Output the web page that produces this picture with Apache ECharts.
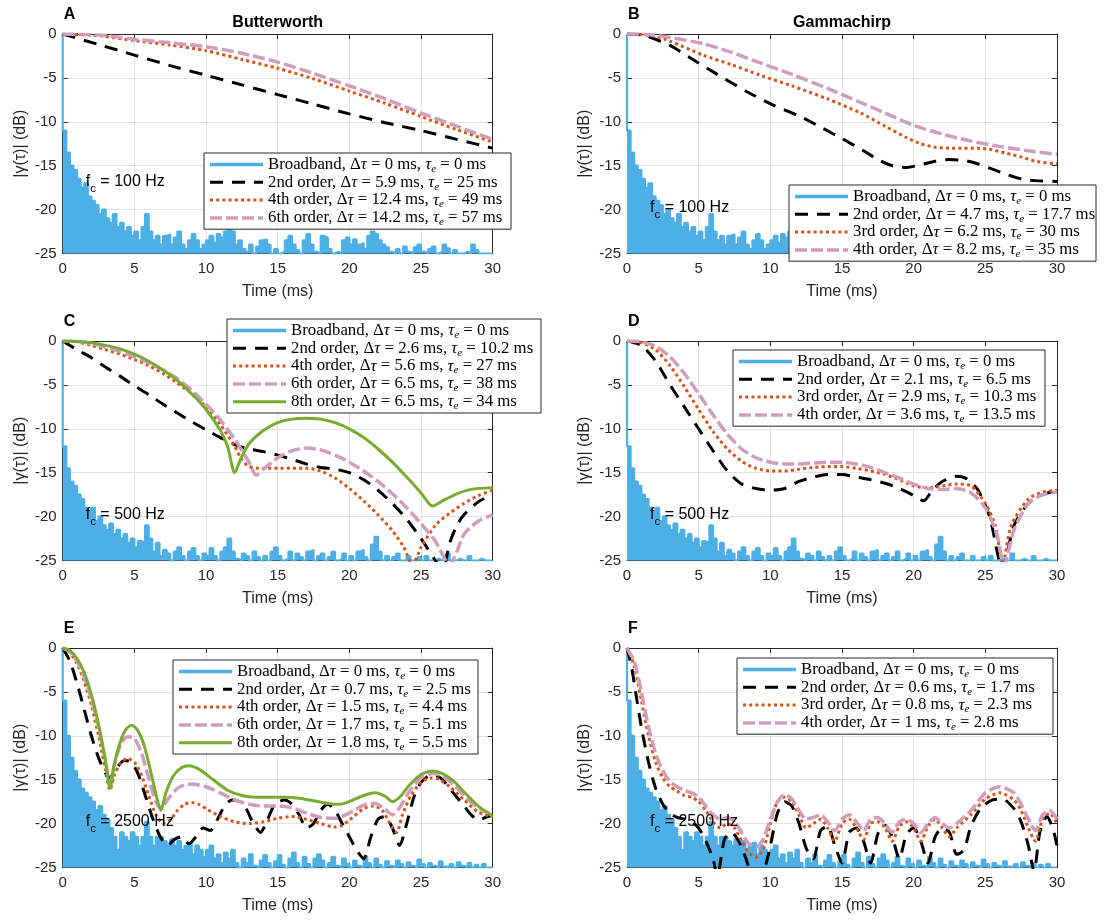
<!DOCTYPE html>
<html>
<head>
<meta charset="utf-8">
<script src="https://cdn.jsdelivr.net/npm/echarts@6/dist/echarts.min.js"></script>
<style>
  html, body { margin: 0; padding: 0; background: #ffffff; }
  #chart { width: 1104px; height: 920px; }
</style>
</head>
<body>
<div id="chart"></div>
<script>
// Broadband envelope |γ(τ)| in dB, sampled every BB_STEP ms from 0 to 30 ms
const BB_STEP = 0.25;
const bb100 = [
  0, -11, -13.5, -15, -15.5, -16.5, -17.5, -17, -18.5, -19, -19.5, -20.5, -20, -21, -21.5, -20.5, -22, -21.5, -22.5, -22,
  -23, -22.5, -23.5, -22, -20.5, -22.5, -23.5, -23, -24, -23, -22.8, -24, -23.2, -22.5, -24, -24.5, -23.5, -22.8, -23.5, -24.5,
  -24, -23.5, -23, -23.8, -22.8, -23.2, -22.5, -21.8, -22.5, -24, -23.5, -24.5, -24.8, -24, -25, -24.2, -23.5, -23.4, -24, -25,
  -24.5, -25, -24.8, -23.5, -23, -24, -24.6, -25, -23.5, -22.8, -24, -24.8, -25, -23, -23.2, -24.5, -25, -24.8, -25, -23.5,
  -23.2, -24, -23.4, -24, -23.8, -24.5, -23, -22.5, -22.8, -23.5, -24, -24.3, -24.8, -25, -24.5, -25, -24.2, -24.8, -25, -24.3,
  -24, -24.8, -25, -24.5, -24.2, -25, -24.8, -24, -24.4, -25, -24.6, -25, -25, -24.8, -25, -24, -24.6, -25, -25, -25,
  -25
];
const bb500 = [
  0, -12, -14.5, -16, -16.5, -17.5, -18, -19, -19.5, -19, -20.5, -20, -21, -21.5, -20.8, -22, -21.5, -22.5, -22, -23,
  -22.5, -23.5, -22.8, -23, -21, -22.5, -24, -23, -24.5, -23.8, -24.2, -25, -24, -23.5, -24.5, -25, -24, -23.6, -24.5, -25,
  -24.2, -24.5, -23.6, -24.5, -25, -24, -23.5, -22.5, -24, -24.8, -25, -24.2, -24.5, -25, -24, -24.6, -25, -24.5, -25, -24,
  -23.5, -24.5, -25, -24.8, -24, -25, -24.2, -24.6, -25, -24, -23.8, -25, -24.5, -24.2, -25, -24.6, -24, -25, -24.8, -24.2,
  -25, -24.5, -25, -24, -23.8, -24.6, -25, -23.2, -22.3, -24, -25, -24.5, -25, -24.6, -24.2, -25, -25, -24.5, -25, -25,
  -24.6, -25, -24.5, -25, -25, -24.8, -25, -25, -24.2, -25, -25, -24.8, -25, -25, -24.5, -25, -25, -24.8, -25, -25,
  -25
];
const bb2500 = [
  0, -6, -10, -12.5, -14, -15, -16, -16.5, -17, -17.5, -18.5, -18, -19, -19.5, -20.5, -21.5, -23, -21, -21.5, -22,
  -21, -21.5, -22.5, -21.5, -19.8, -21.5, -22.5, -21.5, -21.5, -22, -22.5, -21.8, -22.5, -22, -23, -22.5, -22.2, -23.5, -22.5, -23,
  -23.8, -23, -22.5, -24, -23.5, -24.5, -23.3, -24, -23, -24.5, -25, -24, -24.5, -23.5, -24.8, -25, -24.2, -23.6, -24.5, -25,
  -24.3, -23.6, -24.7, -25, -24, -23.3, -24.5, -25, -23.8, -24.6, -25, -24, -23.5, -24.2, -25, -24.5, -23.8, -24.8, -25, -24,
  -24.6, -25, -24.2, -24.8, -25, -23.8, -24.5, -25, -24, -24.7, -25, -24.3, -24.8, -25, -24.2, -24.6, -25, -24.4, -24.8, -25,
  -24.1, -24.6, -25, -24.5, -24.8, -25, -24.3, -24.9, -25, -24.6, -25, -24.4, -24.8, -25, -24.5, -25, -24.7, -25, -24.6, -25,
  -25
];

// Filtered envelopes, [time (ms), dB]
// A: Butterworth, fc = 100 Hz
const A_2nd = [[0,0],[2.5,-1.2],[5,-2.4],[7.5,-3.6],[10,-4.7],[12.5,-5.8],[15,-6.9],[17.5,-8],[20,-9.1],[22.5,-10.1],[25,-11],[27.5,-12],[30,-13]];
const A_4th = [[0,0],[2.5,-0.2],[5,-0.75],[7.5,-1.25],[10,-1.9],[12.5,-2.9],[15,-3.9],[17.5,-5.1],[20,-6.5],[22.5,-7.9],[25,-9.4],[27.5,-10.9],[30,-12.3]];
const A_6th = [[0,0],[2.5,-0.12],[5,-0.6],[7.5,-1],[10,-1.45],[12.5,-2.2],[15,-3.2],[17.5,-4.5],[20,-5.9],[22.5,-7.4],[25,-9],[27.5,-10.5],[30,-12]];
// B: Gammachirp, fc = 100 Hz
const B_2nd = [[0,0],[1,-0.1],[2,-0.6],[3,-1.3],[4.4,-2.7],[6.3,-4.6],[8.4,-6.6],[10.2,-8.1],[12.1,-9.4],[13.5,-10.6],[15,-11.9],[16.5,-13.3],[17.5,-14.3],[18.5,-15],[19.5,-15.2],[20.5,-14.9],[21.5,-14.5],[22.5,-14.3],[23.5,-14.4],[24.5,-14.8],[25.5,-15.4],[26.5,-16],[27.5,-16.5],[28.5,-16.7],[30,-16.8]];
const B_3rd = [[0,0],[1,-0.05],[2,-0.3],[3,-0.8],[5.3,-2.4],[7.3,-3.5],[9.3,-4.7],[11.5,-5.9],[14,-7.4],[16.3,-9],[18,-10.5],[19.5,-11.8],[20.5,-12.5],[21.5,-12.9],[22.5,-13],[23.5,-13],[24.5,-13],[25.5,-13.2],[26.5,-13.6],[27.5,-14],[28.5,-14.5],[30,-14.8]];
const B_4th = [[0,0],[1,-0.02],[2,-0.15],[3,-0.4],[5.3,-1.1],[7.3,-2.1],[9.3,-3.3],[11.5,-4.6],[14,-6.2],[16.3,-7.8],[18,-9],[20,-10.4],[22,-11.4],[24,-12.2],[26,-12.8],[28,-13.3],[30,-13.7]];
// C: Butterworth, fc = 500 Hz
const C_2nd = [[0,0],[1,-1],[2,-1.9],[3,-3],[4,-4],[5,-5.1],[6,-6.1],[7,-7.2],[8,-8.2],[9,-9.2],[10,-10.1],[11,-11],[12,-11.8],[13,-12.3],[14,-12.6],[15,-13],[16,-13.5],[17,-14],[18,-14.4],[19,-14.6],[20,-15],[21,-15.8],[22,-17],[23,-18.5],[24,-20.3],[25,-22.5],[26,-25],[26.5,-26],[27,-23],[27.5,-21],[28,-19.8],[29,-18.3],[30,-17.5]];
const C_4th = [[0,0],[1,-0.1],[2,-0.5],[3,-1],[4,-1.5],[5,-2.1],[6,-2.8],[7,-3.7],[8,-4.8],[9,-6],[10,-7.5],[11,-9.5],[12,-12],[12.5,-13.5],[13,-14.3],[14,-14.5],[15,-14.5],[16,-14.5],[17,-14.5],[18,-14.8],[19,-15.6],[20,-16.8],[21,-18.2],[22,-19.8],[23,-21.6],[23.8,-23.5],[24.4,-25.5],[25,-23.5],[26,-21],[27,-19.6],[28,-18.5],[29,-17.6],[30,-17]];
const C_6th = [[0,0],[1,-0.05],[2,-0.3],[3,-0.7],[4,-1.2],[5,-1.8],[6,-2.5],[7,-3.3],[8,-4.3],[9,-5.6],[10,-7.2],[11,-9],[12,-11.2],[13,-13.8],[13.5,-15.3],[14,-14.6],[15,-13.3],[16,-12.5],[17,-12.2],[18,-12.4],[19,-13],[20,-13.8],[21,-14.8],[22,-16],[23,-17.4],[24,-19],[25,-20.8],[26,-22.8],[27,-25.5],[27.5,-24],[28,-22],[29,-20.5],[30,-19.8]];
const C_8th = [[0,0],[1,-0.05],[2,-0.2],[3,-0.5],[4,-0.9],[5,-1.5],[6,-2.3],[7,-3.3],[8,-4.5],[9,-6],[10,-7.8],[11,-10.2],[11.5,-12],[12,-15],[12.4,-13.5],[13,-11.7],[14,-10.2],[15,-9.3],[16,-8.9],[17,-8.8],[18,-8.9],[19,-9.3],[20,-10],[21,-11],[22,-12.3],[23,-13.8],[24,-15.5],[25,-17.3],[25.8,-18.8],[26.5,-18.2],[27.5,-17.4],[28.5,-16.9],[30,-16.7]];
// D: Gammachirp, fc = 500 Hz
const D_2nd = [[0,0],[1,-0.5],[2,-2.3],[3,-5],[4,-7.5],[5,-10],[6,-12.5],[7,-14.8],[8,-16.3],[9,-16.8],[10,-17],[11,-16.8],[12,-16],[13,-15.5],[14,-15.2],[15,-15.2],[16,-15.5],[17,-15.8],[18,-16.2],[19,-16.8],[20,-17.6],[20.7,-18.2],[21.3,-17],[22,-16],[23,-15.4],[23.7,-15.7],[24.5,-17],[25.3,-20],[26.2,-26],[27,-21],[28,-18.5],[29,-17.5],[30,-17]];
const D_3rd = [[0,0],[1,-0.2],[2,-1],[3,-2.8],[4,-5.2],[5,-7.8],[6,-10.3],[7,-12.3],[8,-13.7],[9,-14.5],[10,-14.8],[11,-14.8],[12,-14.6],[13,-14.4],[14,-14.3],[15,-14.3],[16,-14.5],[17,-14.8],[18,-15.2],[19,-15.8],[20,-16.5],[21,-16.7],[22,-16.5],[23,-16.3],[24,-16.5],[25,-18.5],[25.7,-21],[26.2,-25.5],[26.8,-21],[28,-18],[29,-17.2],[30,-17]];
const D_4th = [[0,0],[1,-0.1],[2,-0.6],[3,-1.8],[4,-3.7],[5,-6],[6,-8.4],[7,-10.6],[8,-12.3],[9,-13.3],[10,-13.8],[11,-14],[12,-14],[13,-13.9],[14,-13.8],[15,-13.8],[16,-14],[17,-14.4],[18,-15],[19,-15.6],[20,-16.3],[21,-16.8],[22,-16.9],[23,-16.8],[24,-17.3],[25,-19],[25.8,-22],[26.3,-25.5],[27,-21.5],[28,-18.5],[29,-17.5],[30,-17.2]];
// E: Butterworth, fc = 2500 Hz
const E_2nd = [[0,0],[0.5,-1.5],[1,-4],[1.5,-7],[2,-10],[2.5,-12.5],[3,-14.3],[3.3,-14.8],[3.7,-13.8],[4.3,-12.8],[4.8,-13],[5.3,-14.5],[5.8,-17],[6.3,-19.5],[6.8,-21.5],[7.3,-22.5],[7.8,-21.8],[8.3,-21.5],[8.8,-22.3],[9.3,-21.5],[9.8,-20.5],[10.3,-20.8],[10.8,-19.5],[11.3,-18],[11.8,-17.3],[12.3,-17.5],[12.8,-18.3],[13.3,-20],[13.8,-21],[14.3,-19.5],[14.8,-17.8],[15.5,-17.3],[16,-17.8],[16.5,-19],[17,-20.5],[17.5,-20],[18,-18.5],[18.5,-17.8],[19,-18.5],[19.5,-20],[20,-21.5],[20.5,-23],[21,-24],[21.5,-21.5],[22,-19.5],[22.5,-19.2],[23,-20.5],[23.5,-22.5],[24,-20],[24.5,-17],[25,-15.3],[25.5,-14.6],[26,-14.5],[26.5,-15],[27,-16],[27.5,-17],[28,-18],[28.5,-19],[29,-19.6],[29.5,-19.3],[30,-19]];
const E_4th = [[0,0],[0.5,-0.5],[1,-1.8],[1.5,-3.8],[2,-6.5],[2.5,-10],[3,-14],[3.3,-16.2],[3.6,-14.5],[4,-13.2],[4.5,-12.6],[5,-13],[5.5,-14.5],[6,-16.8],[6.5,-19],[7,-20],[7.5,-19.6],[8,-18.5],[8.5,-17.8],[9,-17.6],[9.5,-17.8],[10,-18.3],[11,-19.2],[12,-19.8],[13,-20],[14,-19.8],[15,-19.4],[16,-19.2],[17,-19.5],[18,-20],[19,-20.4],[19.5,-20.2],[20,-19.6],[21,-18.3],[21.7,-18],[22.3,-18.5],[23,-20.5],[23.3,-21],[23.7,-19],[24.3,-16.8],[25,-15.3],[25.7,-14.8],[26.3,-15],[27,-15.8],[28,-17.3],[29,-18.7],[30,-19.2]];
const E_6th = [[0,0],[0.5,-0.4],[1,-1.5],[1.5,-3.3],[2,-5.8],[2.5,-9],[3,-13],[3.3,-15.5],[3.6,-13.3],[4,-11.2],[4.5,-10.1],[5,-10.3],[5.5,-12],[6,-14.8],[6.5,-17.5],[6.9,-18.3],[7.3,-17.3],[8,-16],[8.5,-15.6],[9,-15.5],[10,-15.8],[11,-16.5],[12,-17.3],[13,-17.8],[14,-18],[15,-18],[16,-18.2],[17,-18.8],[18,-19.3],[19,-19.4],[20,-18.8],[21,-17.9],[21.8,-17.7],[22.5,-18.4],[23,-19],[23.5,-18.2],[24.2,-16.3],[25,-14.8],[25.8,-14.3],[26.5,-14.6],[27.3,-15.6],[28,-16.8],[29,-18.2],[30,-19]];
const E_8th = [[0,0],[0.5,-0.3],[1,-1.2],[1.5,-2.8],[2,-5.3],[2.5,-8.7],[3,-13],[3.3,-16],[3.6,-13.3],[4,-10.8],[4.4,-9.3],[4.8,-8.8],[5.2,-9.3],[5.7,-11.2],[6.2,-14.5],[6.6,-17.3],[6.85,-18.5],[7.2,-16.5],[7.7,-14.6],[8.3,-13.6],[8.8,-13.4],[9.5,-13.8],[10.5,-15],[11.5,-16.2],[12.5,-16.8],[13.5,-17],[14.5,-17],[15.5,-17],[16.5,-17.1],[17.5,-17.4],[18.5,-17.7],[19.3,-17.8],[20,-17.5],[21,-16.8],[21.8,-16.5],[22.5,-16.9],[23,-17.5],[23.5,-17],[24.2,-15.6],[25,-14.4],[25.8,-14],[26.5,-14.3],[27.3,-15.2],[28,-16.4],[29,-18],[30,-19.2]];
// F: Gammachirp, fc = 2500 Hz
const F_2nd = [[0,0],[0.3,-2],[0.6,-5],[1,-9],[1.5,-13],[2,-16],[2.5,-17.8],[3,-18.8],[3.5,-19.3],[4,-19.5],[4.5,-19.8],[5,-20.5],[5.5,-22],[6,-24],[6.3,-26],[6.8,-21.8],[7.3,-21],[7.8,-22],[8.3,-24],[8.8,-26],[9.5,-25.5],[10,-22.5],[10.5,-18.8],[11,-17.5],[11.5,-18],[12,-20],[12.5,-22.8],[13,-24],[13.5,-20.8],[14,-20.3],[14.5,-22.5],[15,-24.5],[15.5,-21],[16,-20.5],[16.5,-22],[17,-24.5],[17.5,-21.2],[18,-20.2],[18.5,-21.5],[19,-24],[19.5,-21.2],[20,-20.5],[20.5,-22],[21,-24.5],[21.5,-21.5],[22,-20.5],[22.5,-21],[23,-23.5],[23.5,-23],[24,-20.3],[24.7,-18.2],[25.5,-17.3],[26.2,-17.2],[27,-18.3],[27.5,-19.8],[28,-22.5],[28.4,-25.5],[28.8,-21],[29.3,-19.2],[29.7,-20.5],[30,-22.5]];
const F_3rd = [[0,0],[0.5,-2],[1,-6],[1.5,-10],[2,-13],[2.5,-14.8],[3,-15.8],[3.5,-16.3],[4,-16.8],[4.5,-17],[5,-17.5],[5.5,-18.5],[6,-19.8],[6.5,-20.5],[7,-20],[7.5,-20.5],[8,-22],[8.5,-23.3],[9,-23.8],[9.5,-23],[10,-20],[10.5,-17.5],[11,-17],[11.5,-17.5],[12,-19],[12.5,-20.5],[13,-20],[13.5,-19.5],[14,-20.5],[14.5,-22],[15,-20],[15.5,-19.5],[16,-20.5],[16.5,-21.8],[17,-20],[17.5,-19.8],[18,-20.5],[18.5,-22],[19,-20.3],[19.5,-19.8],[20,-20.5],[20.5,-22],[21,-20.3],[21.5,-19.5],[22,-20.5],[22.5,-21.5],[23,-20.5],[24,-19],[25,-17.2],[26,-16.5],[27,-17.3],[27.5,-18.5],[28,-20.5],[28.5,-22],[29,-19.5],[29.5,-18.8],[30,-20]];
const F_4th = [[0,0],[0.5,-1.5],[1,-5],[1.5,-9],[2,-12],[2.5,-14],[3,-15.2],[3.5,-15.8],[4,-16.2],[4.5,-16.5],[5,-17],[5.5,-18],[6,-19],[6.5,-19.5],[7,-19.3],[7.5,-19.8],[8,-21],[8.5,-22.3],[9,-22.7],[9.5,-21.8],[10,-19.5],[10.5,-17.5],[11,-16.7],[11.5,-17.2],[12,-18.5],[12.5,-19.5],[13,-19.3],[13.5,-19],[14,-19.8],[14.5,-20.8],[15,-19.5],[15.5,-19],[16,-19.8],[16.5,-20.8],[17,-19.5],[17.5,-19.3],[18,-20],[18.5,-21],[19,-19.8],[19.5,-19.5],[20,-20],[20.5,-21],[21,-20],[21.5,-19.3],[22,-20],[22.5,-20.5],[23,-20],[24,-18.5],[25,-16.5],[26,-15.8],[27,-16.5],[27.5,-17.8],[28,-19.5],[28.5,-20.8],[29,-19],[29.5,-18.5],[30,-19.5]];

// Legend entries: filter order, Δτ (ms), τe (ms)
const A_orders = ['2nd order', '4th order', '6th order'], A_dtau = ['5.9', '12.4', '14.2'], A_tauE = ['25', '49', '57'];
const B_orders = ['2nd order', '3rd order', '4th order'], B_dtau = ['4.7', '6.2', '8.2'], B_tauE = ['17.7', '30', '35'];
const C_orders = ['2nd order', '4th order', '6th order', '8th order'], C_dtau = ['2.6', '5.6', '6.5', '6.5'], C_tauE = ['10.2', '27', '38', '34'];
const D_orders = ['2nd order', '3rd order', '4th order'], D_dtau = ['2.1', '2.9', '3.6'], D_tauE = ['6.5', '10.3', '13.5'];
const E_orders = ['2nd order', '4th order', '6th order', '8th order'], E_dtau = ['0.7', '1.5', '1.7', '1.8'], E_tauE = ['2.5', '4.4', '5.1', '5.5'];
const F_orders = ['2nd order', '3rd order', '4th order'], F_dtau = ['0.6', '0.8', '1'], F_tauE = ['1.7', '2.3', '2.8'];

// Axis ticks
const X_MIN = 0, X_MAX = 30, X_STEP = 5;
const Y_MIN = -25, Y_MAX = 0, Y_STEP = 5;

// ---- styling ----
const INK = '#262626';
const BB_COLOR = '#4DAFE6';
const LINE_STYLES = [
  { color: '#000000', width: 3,   type: [13, 9] },
  { color: '#D95319', width: 3,   type: [3, 3.2] },
  { color: '#CF9EBC', width: 3.5, type: [12, 4] },
  { color: '#77AC30', width: 3,   type: 'solid' }
];
const PLOT_W = 430, PLOT_H = 219.5;
const SANS = 'Liberation Sans, Arial, Helvetica, sans-serif';
const SERIF = 'Liberation Serif, Times New Roman, serif';
const TOP_Z = 100;

const panels = [
  { tag: 'A', title: 'Butterworth', fc: '100',  left: 62.7, top: 34,  bb: bb100,  curves: [A_2nd, A_4th, A_6th],        orders: A_orders, dtau: A_dtau, tauE: A_tauE, leg: { x: 204, y: 153, w: 307 }, fcY: 182 },
  { tag: 'B', title: 'Gammachirp',  fc: '100',  left: 627,  top: 34,  bb: bb100,  curves: [B_2nd, B_3rd, B_4th],        orders: B_orders, dtau: B_dtau, tauE: B_tauE, leg: { x: 789, y: 185, w: 307 }, fcY: 208 },
  { tag: 'C', title: '',            fc: '500',  left: 62.7, top: 341, bb: bb500,  curves: [C_2nd, C_4th, C_6th, C_8th], orders: C_orders, dtau: C_dtau, tauE: C_tauE, leg: { x: 227, y: 319, w: 314 }, fcY: 515 },
  { tag: 'D', title: '',            fc: '500',  left: 627,  top: 341, bb: bb500,  curves: [D_2nd, D_3rd, D_4th],        orders: D_orders, dtau: D_dtau, tauE: D_tauE, leg: { x: 733, y: 350, w: 312 }, fcY: 515 },
  { tag: 'E', title: '',            fc: '2500', left: 62.7, top: 648, bb: bb2500, curves: [E_2nd, E_4th, E_6th, E_8th], orders: E_orders, dtau: E_dtau, tauE: E_tauE, leg: { x: 173, y: 660, w: 305 }, fcY: 822 },
  { tag: 'F', title: '',            fc: '2500', left: 627,  top: 648, bb: bb2500, curves: [F_2nd, F_3rd, F_4th],        orders: F_orders, dtau: F_dtau, tauE: F_tauE, leg: { x: 737, y: 658, w: 316 }, fcY: 822 }
];

const LEG_ROW = 17.8;
const LEG_FONT = 16.8;
const legendRich = {
  n: { fontFamily: SERIF, fontSize: LEG_FONT, color: '#000' },
  i: { fontFamily: SERIF, fontSize: LEG_FONT, fontStyle: 'italic', color: '#000' },
  s: { fontFamily: SERIF, fontSize: 11, fontStyle: 'italic', color: '#000', padding: [9, 0, 0, 0] }
};
function legendText(order, dtau, tauE) {
  return '{n|' + order + ', Δ}{i|τ}{n| = ' + dtau + ' ms, }{i|τ}{s|e}{n| = ' + tauE + ' ms}';
}

const grids = [], xAxes = [], yAxes = [], series = [], graphics = [];

function axisBase(showLabel) {
  return {
    axisLine: { show: true, onZero: false, lineStyle: { color: INK, width: 1 } },
    axisTick: { show: true, inside: true, length: 5, lineStyle: { color: INK, width: 1 } },
    axisLabel: { show: showLabel, color: INK, fontFamily: SANS, fontSize: 15 }
  };
}

panels.forEach(function (p, k) {
  grids.push({ left: p.left, top: p.top, width: PLOT_W, height: PLOT_H, containLabel: false, outerBoundsMode: 'none' });

  const xb = axisBase(true);
  xb.axisLabel.margin = 8;
  xAxes.push(Object.assign(xb, {
    type: 'value', gridIndex: k, position: 'bottom', min: X_MIN, max: X_MAX, interval: X_STEP,
    name: 'Time (ms)', nameLocation: 'middle', nameGap: 30,
    nameTextStyle: { color: INK, fontFamily: SANS, fontSize: 16 },
    splitLine: { show: true, lineStyle: { color: '#e4e4e4', width: 1 } }
  }));
  const xt = axisBase(false);
  xAxes.push(Object.assign(xt, {
    type: 'value', gridIndex: k, position: 'top', min: X_MIN, max: X_MAX, interval: X_STEP,
    splitLine: { show: false }
  }));

  const yl = axisBase(true);
  yl.axisLabel.margin = 6;
  yAxes.push(Object.assign(yl, {
    type: 'value', gridIndex: k, position: 'left', min: Y_MIN, max: Y_MAX, interval: Y_STEP,
    name: '|γ(τ)| (dB)', nameLocation: 'middle', nameGap: 34, nameRotate: 90,
    nameTextStyle: { color: INK, fontFamily: SANS, fontSize: 16 },
    splitLine: { show: true, lineStyle: { color: '#e4e4e4', width: 1 } }
  }));
  const yr = axisBase(false);
  yAxes.push(Object.assign(yr, {
    type: 'value', gridIndex: k, position: 'right', min: Y_MIN, max: Y_MAX, interval: Y_STEP,
    splitLine: { show: false }
  }));

  // broadband envelope as a filled staircase down to the axis floor
  series.push({
    type: 'line', xAxisIndex: 2 * k, yAxisIndex: 2 * k,
    name: p.tag + ' broadband',
    data: p.bb.map(function (v, i) { return [i * BB_STEP, v]; }),
    step: 'start', showSymbol: false, silent: true, z: 2,
    lineStyle: { color: BB_COLOR, width: 2.2 },
    areaStyle: { color: BB_COLOR, opacity: 1, origin: 'start' }
  });
  p.curves.forEach(function (c, j) {
    const st = LINE_STYLES[j];
    series.push({
      type: 'line', xAxisIndex: 2 * k, yAxisIndex: 2 * k,
      name: p.tag + ' ' + p.orders[j],
      data: c, smooth: 0.25, showSymbol: false, silent: true, clip: true, z: 3 + j,
      lineStyle: { color: st.color, width: st.width, type: st.type, cap: 'butt' }
    });
  });

  // panel letter and title
  graphics.push({
    type: 'text', x: p.left + 1, y: p.top - 19, z: TOP_Z,
    style: { text: p.tag, font: 'bold 16px ' + SANS, fill: '#000', verticalAlign: 'middle', align: 'left' }
  });
  if (p.title) {
    graphics.push({
      type: 'text', x: p.left + PLOT_W / 2, y: p.top - 11.5, z: TOP_Z,
      style: { text: p.title, font: 'bold 16px ' + SANS, fill: '#000', verticalAlign: 'middle', align: 'center' }
    });
  }

  // centre frequency annotation
  graphics.push({
    type: 'text', x: p.left + 23, y: p.fcY, z: TOP_Z,
    style: {
      text: '{a|f}{b|c}{a| = ' + p.fc + ' Hz}', verticalAlign: 'middle', align: 'left',
      rich: {
        a: { fontFamily: SANS, fontSize: 16, color: '#000' },
        b: { fontFamily: SANS, fontSize: 11.5, color: '#000', padding: [13, 0, 0, 0] }
      }
    }
  });

  // legend box with line samples
  const rows = [{ st: null, txt: legendText('Broadband', '0', '0') }];
  p.orders.forEach(function (o, j) { rows.push({ st: LINE_STYLES[j], txt: legendText(o, p.dtau[j], p.tauE[j]) }); });
  const boxH = rows.length * LEG_ROW + 5;
  const lx = p.leg.x, ly = p.leg.y;
  graphics.push({
    type: 'rect', z: TOP_Z + 1, shape: { x: lx, y: ly, width: p.leg.w, height: boxH },
    style: { fill: '#ffffff', stroke: INK, lineWidth: 1 }
  });
  rows.forEach(function (r, i) {
    const cy = ly + 11.5 + i * LEG_ROW;
    const st = r.st || { color: BB_COLOR, width: 3.5, type: 'solid' };
    graphics.push({
      type: 'line', z: TOP_Z + 2, shape: { x1: lx + 6, y1: cy, x2: lx + 59, y2: cy },
      style: { stroke: st.color, lineWidth: st.width, lineDash: st.type === 'solid' ? null : st.type, lineCap: 'butt' }
    });
    graphics.push({
      type: 'text', z: TOP_Z + 2, x: lx + 64, y: cy,
      style: { text: r.txt, rich: legendRich, verticalAlign: 'middle', align: 'left' }
    });
  });
});

const chart = echarts.init(document.getElementById('chart'), null, { renderer: 'canvas' });
chart.setOption({
  backgroundColor: '#ffffff',
  animation: false,
  grid: grids,
  xAxis: xAxes,
  yAxis: yAxes,
  series: series,
  graphic: graphics
});
</script>
</body>
</html>
